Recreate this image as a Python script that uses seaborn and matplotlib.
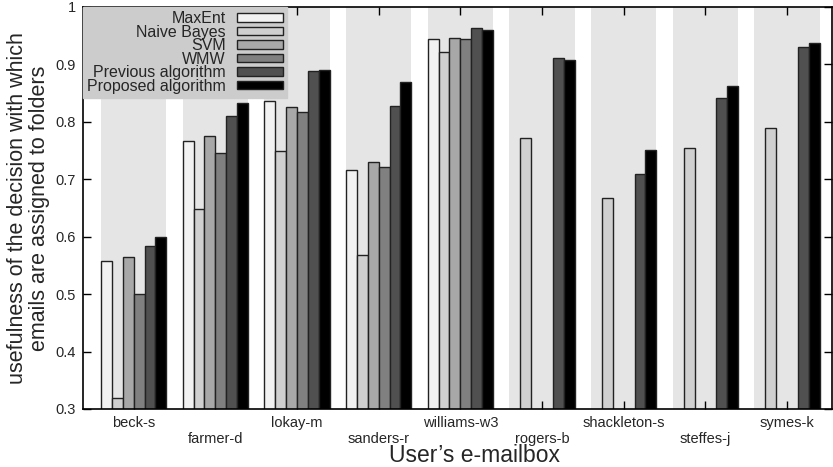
import numpy as np
import pandas as pd
import matplotlib
matplotlib.use("Agg")
import matplotlib.pyplot as plt
import seaborn as sns

mailboxes = ["beck-s", "farmer-d", "lokay-m", "sanders-r", "williams-w3",
             "rogers-b", "shackleton-s", "steffes-j", "symes-k"]
methods = ["MaxEnt", "Naive Bayes", "SVM", "WMW", "Previous algorithm", "Proposed algorithm"]
maxent   = [0.558, 0.766, 0.836, 0.716, 0.944, np.nan, np.nan, np.nan, np.nan]
naive    = [0.320, 0.648, 0.750, 0.568, 0.922, 0.772, 0.667, 0.755, 0.789]
svm      = [0.565, 0.775, 0.826, 0.730, 0.946, np.nan, np.nan, np.nan, np.nan]
wmw      = [0.500, 0.746, 0.818, 0.721, 0.945, np.nan, np.nan, np.nan, np.nan]
previous = [0.583, 0.810, 0.888, 0.828, 0.963, 0.912, 0.709, 0.841, 0.930]
proposed = [0.600, 0.833, 0.890, 0.870, 0.960, 0.907, 0.751, 0.863, 0.937]
colors = ["#f2f2f2", "#d0d0d0", "#a8a8a8", "#808080", "#505050", "#000000"]

series = [maxent, naive, svm, wmw, previous, proposed]
rows = []
for m, vals in zip(methods, series):
    for mb, v in zip(mailboxes, vals):
        rows.append({"mailbox": mb, "method": m, "value": v})
df = pd.DataFrame(rows)

sns.set_style("white")
plt.rcParams["font.family"] = ["Liberation Sans", "DejaVu Sans"]

fig = plt.figure(figsize=(8.33, 4.67), dpi=100)
ax = fig.add_axes([83 / 833, 58 / 467, 749 / 833, 402 / 467])

for i in range(len(mailboxes)):
    ax.axvspan(i - 0.4, i + 0.4, color="#e5e5e5", zorder=0, lw=0)

sns.barplot(data=df, x="mailbox", y="value", hue="method", order=mailboxes,
            hue_order=methods, palette=colors, width=0.8, gap=0,
            edgecolor="#222222", linewidth=1.0, ax=ax, zorder=2, legend=True)

ax.set_ylim(0.3, 1.0)
ax.set_xlim(-0.62, 8.55)
ax.set_yticks([0.3, 0.4, 0.5, 0.6, 0.7, 0.8, 0.9, 1.0])
ax.set_yticklabels(["0.3", "0.4", "0.5", "0.6", "0.7", "0.8", "0.9", "1"], fontsize=10.5)
ax.set_xticks(range(len(mailboxes)))
ax.set_xticklabels([("\n" + m) if i % 2 else m for i, m in enumerate(mailboxes)], fontsize=10.5)
ax.tick_params(direction="in", top=True, right=True, bottom=True, left=True,
               length=6, width=1.0, color="black", pad=5)
for s in ax.spines.values():
    s.set_color("black")
    s.set_linewidth(1.2)
    s.set_zorder(5)

ax.set_ylabel("usefulness of the decision with which\nemails are assigned to folders",
              fontsize=15.5, labelpad=4, linespacing=1.1)
ax.set_xlabel("User’s e-mailbox", fontsize=16.5, labelpad=0)
ax.xaxis.set_label_coords(0.523, -0.088)

leg = ax.legend(loc="upper left", markerfirst=False, frameon=True, fancybox=False,
                fontsize=11.5, alignment="right", borderaxespad=0, handlelength=2.9,
                handleheight=0.45, labelspacing=-0.09, borderpad=0.25, handletextpad=0.7)
leg.get_frame().set_facecolor("#cccccc")
leg.get_frame().set_edgecolor("#cccccc")
leg.get_frame().set_alpha(1)
for t in leg.get_texts():
    t.set_ha("right")
leg.set_zorder(6)

fig.savefig("out.png", dpi=100)
